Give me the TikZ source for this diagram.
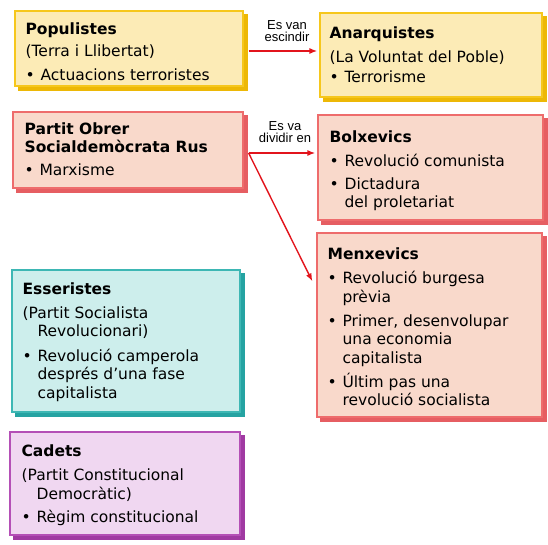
\documentclass[tikz,border=0pt]{standalone}
\usepackage{fontspec}
\setmainfont{DejaVu Sans}
\newfontfamily\lblfont{Liberation Sans}
\usetikzlibrary{fit,shadows,arrows.meta}

\definecolor{yfill}{HTML}{FCEBB6}
\definecolor{yedge}{HTML}{F6C71C}
\definecolor{yshad}{HTML}{EDB806}
\definecolor{pfill}{HTML}{F9D9CB}
\definecolor{pedge}{HTML}{EE6C6C}
\definecolor{pshad}{HTML}{E65E62}
\definecolor{cfill}{HTML}{CDEEEC}
\definecolor{cedge}{HTML}{3DB7B4}
\definecolor{cshad}{HTML}{25A3A2}
\definecolor{lfill}{HTML}{F0D7F1}
\definecolor{ledge}{HTML}{B44FB6}
\definecolor{lshad}{HTML}{A03AA2}
\definecolor{arrred}{HTML}{E2141C}

\newcommand{\blt}{\makebox[15pt][l]{•}}
\newcommand{\indt}{\hspace*{15pt}}

\begin{document}
\begin{tikzpicture}[x=1pt, y=-1pt,
    box/.style={line width=1.2pt, inner sep=0pt},
    ybox/.style={box, draw=yedge, fill=yfill, copy shadow={shadow xshift=4pt, shadow yshift=-4pt, fill=yshad, draw=yshad}},
    pbox/.style={box, draw=pedge, fill=pfill, copy shadow={shadow xshift=4pt, shadow yshift=-4pt, fill=pshad, draw=pshad}},
    cbox/.style={box, draw=cedge, fill=cfill, copy shadow={shadow xshift=4pt, shadow yshift=-4pt, fill=cshad, draw=cshad}},
    lbox/.style={box, draw=ledge, fill=lfill, copy shadow={shadow xshift=4pt, shadow yshift=-4pt, fill=lshad, draw=lshad}},
    txt/.style={anchor=north west, inner sep=0pt, align=left, font=\fontsize{15.5pt}{18.5pt}\selectfont},
    lbl/.style={anchor=south, inner sep=0pt, align=center, font=\lblfont\fontsize{13pt}{12.5pt}\selectfont},
    redarr/.style={draw=arrred, line width=1.4pt, -{Latex[length=8pt, width=6pt]}}]
  \useasboundingbox (0,0) rectangle (548,545);

  % boxes
  \node[ybox, fit={(15,11) (243,86)}] (popbox) {};
  \node[ybox, fit={(320,13) (542,97)}] (anabox) {};
  \node[pbox, fit={(13,112) (243,188)}] (posbox) {};
  \node[pbox, fit={(318,115) (543,220)}] (bolbox) {};
  \node[pbox, fit={(317,233) (542,417)}] (menbox) {};
  \node[cbox, fit={(12,270) (240,412)}] (essbox) {};
  \node[lbox, fit={(10,432) (240,535)}] (cadbox) {};

  % texts
  \node[txt] (poptxt) at ([xshift=11pt, yshift=-12.5pt]popbox.north west)
    {\textbf{Populistes}\\[3pt] (Terra i Llibertat)\\[5.5pt] \blt Actuacions terroristes};
  \node[txt] (anatxt) at ([xshift=10pt, yshift=-14pt]anabox.north west)
    {\textbf{Anarquistes}\\[5.5pt] (La Voluntat del Poble)\\[1.5pt] \blt Terrorisme};
  \node[txt] (postxt) at ([xshift=12pt, yshift=-11pt]posbox.north west)
    {\textbf{Partit Obrer}\\ \textbf{Socialdemòcrata Rus}\\[4.5pt] \blt Marxisme};
  \node[txt] (boltxt) at ([xshift=12pt, yshift=-16pt]bolbox.north west)
    {\textbf{Bolxevics}\\[5.5pt] \blt Revolució comunista\\[4.5pt] \blt Dictadura\\ \indt del proletariat};
  \node[txt] (mentxt) at ([xshift=11pt, yshift=-15pt]menbox.north west)
    {\textbf{Menxevics}\\[6pt] \blt Revolució burgesa\\ \indt prèvia\\[5.5pt]
     \blt Primer, desenvolupar\\ \indt una economia\\ \indt capitalista\\[5.5pt]
     \blt Últim pas una\\ \indt revolució socialista};
  \node[txt] (esstxt) at ([xshift=11pt, yshift=-13pt]essbox.north west)
    {\textbf{Esseristes}\\[5.5pt] (Partit Socialista\\ \indt Revolucionari)\\[6pt]
     \blt Revolució camperola\\ \indt després d’una fase\\ \indt capitalista};
  \node[txt] (cadtxt) at ([xshift=12pt, yshift=-13pt]cadbox.north west)
    {\textbf{Cadets}\\[6pt] (Partit Constitucional\\ \indt Democràtic)\\[4.5pt] \blt Règim constitucional};

  % connectors
  \coordinate (splitA) at ([xshift=5pt, yshift=-2.5pt]popbox.east);
  \coordinate (splitB) at ([xshift=5pt, yshift=-3pt]posbox.east);
  \draw[redarr, shorten >=2pt] (splitA) -- (splitA -| anabox.west);
  \draw[redarr, shorten >=2pt] (splitB) -- (splitB -| bolbox.west);
  \draw[redarr] (splitB) -- ([xshift=-4pt, yshift=-49pt]menbox.north west);

  \node[lbl] (lblA) at (287,42) {Es van\\escindir};
  \node[lbl] (lblB) at (285,143) {Es va\\dividir en};
\end{tikzpicture}
\end{document}
